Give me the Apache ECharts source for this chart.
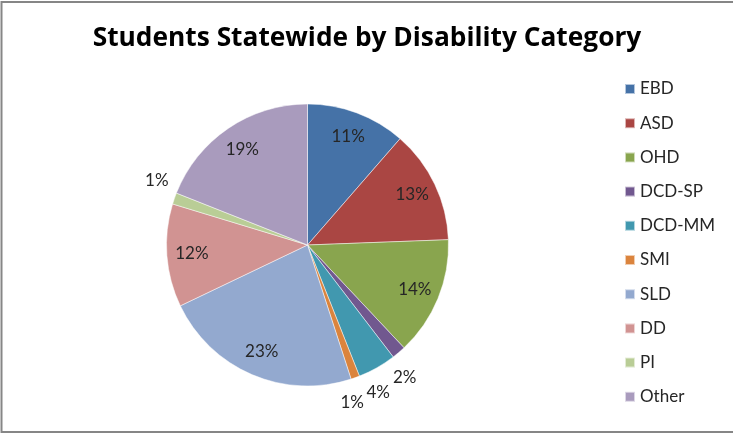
<!DOCTYPE html>
<html>
<head>
<meta charset="utf-8">
<script src="https://cdn.jsdelivr.net/npm/echarts@6/dist/echarts.min.js"></script>
<style>
  html, body { margin: 0; padding: 0; background: #fff; }
  #chart { width: 733px; height: 433px; }
</style>
</head>
<body>
<div id="chart"></div>
<script>
// Disability categories and their share of students statewide (percent)
const categories = ['EBD', 'ASD', 'OHD', 'DCD-SP', 'DCD-MM', 'SMI', 'SLD', 'DD', 'PI', 'Other'];
const shares = [11.4, 13.0, 13.6, 1.6, 4.4, 1.0, 22.9, 11.8, 1.3, 19.0];
const colors = ['#4572A7', '#AA4643', '#89A54E', '#71588F', '#4198AF',
                '#DB843D', '#93A9CF', '#D19392', '#B9CD96', '#A99BBD'];

const FONT = 'Lato';
const TITLE_FONT = 'Open Sans';
const SMALL_SLICE = 5; // slices below this share get their label outside the pie

const pieCenter = [307.5, 245];
const pieRadius = 141;

const slices = categories.map((name, i) => ({
  name,
  value: shares[i],
  itemStyle: { color: colors[i] }
}));

const pctLabel = p => Math.round(p.percent) + '%';
const labelText = { fontFamily: FONT, fontSize: 17, color: '#262626', formatter: pctLabel };

// transparent rings used only to place the percentage labels
function labelRing(radius, pickSmall, startAngle) {
  return {
    type: 'pie',
    silent: true,
    center: pieCenter,
    radius,
    startAngle,
    clockwise: true,
    avoidLabelOverlap: false,
    animation: false,
    itemStyle: { color: 'rgba(0,0,0,0)', borderWidth: 0 },
    emphasis: { disabled: true },
    labelLine: { show: false },
    data: slices.map(s => ({
      name: s.name,
      value: s.value,
      itemStyle: { color: 'rgba(0,0,0,0)' },
      label: Object.assign({ show: (s.value < SMALL_SLICE) === pickSmall, position: 'inside' }, labelText)
    }))
  };
}

const chart = echarts.init(document.getElementById('chart'), null, { renderer: 'canvas' });
chart.setOption({
  backgroundColor: '#ffffff',
  animation: false,
  title: {
    text: 'Students Statewide by Disability Category',
    left: 367,
    textAlign: 'center',
    top: 26,
    padding: 0,
    textStyle: { fontFamily: TITLE_FONT, fontWeight: 'bold', fontSize: 26.3, color: '#000000' }
  },
  legend: {
    orient: 'vertical',
    left: 624,
    top: 79,
    padding: 0,
    itemWidth: 10,
    itemHeight: 10,
    itemGap: 14.2,
    icon: 'rect',
    data: categories,
    textStyle: { fontFamily: FONT, fontSize: 17, color: '#262626', lineHeight: 20 }
  },
  graphic: [{
    type: 'rect',
    silent: true,
    shape: { x: 1.5, y: 2, width: 800, height: 430 },
    style: { fill: 'none', stroke: '#868686', lineWidth: 2 }
  }],
  series: [
    {
      type: 'pie',
      name: 'Students',
      center: pieCenter,
      radius: pieRadius,
      startAngle: 90,
      clockwise: true,
      animation: false,
      itemStyle: { borderColor: 'rgba(255,255,255,0.6)', borderWidth: 0.8 },
      label: { show: false },
      labelLine: { show: false },
      emphasis: { disabled: true },
      data: slices
    },
    labelRing([85, pieRadius], false, 90),
    // outside labels sit a little further round so neighbours don't collide
    labelRing([148, 174], true, 86)
  ]
});
</script>
</body>
</html>
